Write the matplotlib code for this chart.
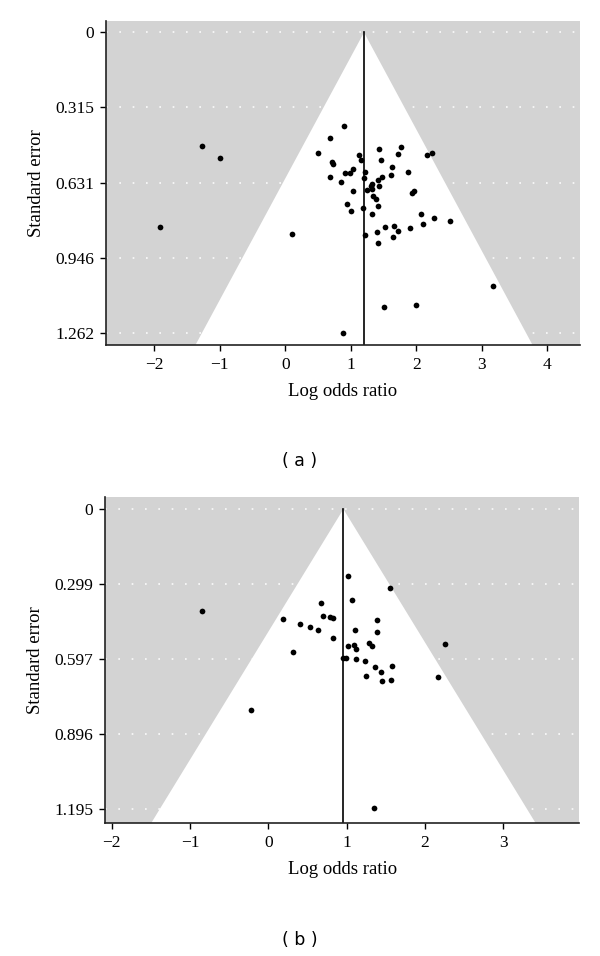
import numpy as np
import matplotlib
matplotlib.use("Agg")
import matplotlib.pyplot as plt

# panel (a)
lor_a = [0.891, 0.688, -1.272, -0.997, 0.505, 0.713, 0.723, 1.130, 1.150, 1.431,
         1.467, 1.766, 1.715, 2.158, 2.240, 1.039, 0.988, 0.917, 0.677, 0.845,
         1.222, 1.207, 1.634, 1.614, 1.481, 1.420, 1.878, 1.318, 1.303, 1.431,
         1.252, 1.323, 1.028, 1.965, 1.934, 1.339, 1.390, 1.420, 0.937, 1.008,
         1.182, 1.329, 2.072, 2.276, 2.520, 2.108, -1.918, 0.102, 1.217, 1.395,
         1.522, 1.659, 1.725, 1.639, 1.899, 1.410, 3.166, 1.507, 1.996, 0.876]
se_a = [0.391, 0.442, 0.478, 0.526, 0.507, 0.544, 0.553, 0.513, 0.534, 0.490,
        0.534, 0.481, 0.509, 0.513, 0.507, 0.573, 0.591, 0.591, 0.606, 0.627,
        0.585, 0.612, 0.567, 0.600, 0.606, 0.618, 0.588, 0.635, 0.646, 0.644,
        0.662, 0.658, 0.668, 0.665, 0.674, 0.685, 0.699, 0.728, 0.720, 0.748,
        0.738, 0.764, 0.764, 0.781, 0.790, 0.803, 0.817, 0.847, 0.851, 0.839,
        0.819, 0.811, 0.832, 0.858, 0.822, 0.886, 1.064, 1.153, 1.146, 1.262]
pooled_a = 1.202
yticks_a = [0, 0.315, 0.631, 0.946, 1.262]
xticks_a = [-2, -1, 0, 1, 2, 3, 4]

# panel (b)
lor_b = [1.022, 1.554, 1.073, 0.673, -0.847, 0.699, 0.784, 0.822, 0.192, 1.384,
         0.409, 0.533, 0.639, 1.111, 1.393, 0.831, 2.261, 1.282, 1.320, 1.022,
         1.094, 1.115, 0.320, 0.958, 0.988, 1.115, 1.230, 1.358, 1.580, 1.435,
         1.252, 1.448, 1.563, 2.171, -0.217, 1.346]
se_b = [0.267, 0.315, 0.363, 0.375, 0.408, 0.428, 0.431, 0.433, 0.440, 0.444,
        0.459, 0.472, 0.482, 0.482, 0.492, 0.516, 0.537, 0.532, 0.544, 0.546,
        0.540, 0.558, 0.570, 0.593, 0.593, 0.597, 0.605, 0.629, 0.627, 0.650,
        0.665, 0.686, 0.682, 0.670, 0.800, 1.190]
pooled_b = 0.958
yticks_b = [0, 0.299, 0.597, 0.896, 1.195]
xticks_b = [-2, -1, 0, 1, 2, 3]

plt.rcParams["font.family"] = ["Liberation Serif", "DejaVu Serif"]

GRAY = "#d3d3d3"


def funnel(ax, lor, se, pooled, yticks, xticks, xlim, ylim):
    ax.set_facecolor(GRAY)
    ax.set_xlim(*xlim)
    ax.set_ylim(*ylim)
    depth = ylim[0] + 0.2
    tri_x = [pooled, pooled - 1.96 * depth, pooled + 1.96 * depth]
    tri_y = [0, depth, depth]
    ax.fill(tri_x, tri_y, color="white", zorder=1, linewidth=0)
    for yt in yticks:
        ax.axhline(yt, color="white", linestyle=(0, (1, 7)), linewidth=1.2,
                   zorder=0.5, alpha=0.9)
    ax.plot([pooled, pooled], [0, ylim[0]], color="black", linewidth=1.2,
            zorder=2)
    ax.scatter(lor, se, s=17, color="black", linewidths=0, zorder=3)
    ax.set_yticks(yticks)
    ax.set_yticklabels(["0" if v == 0 else f"{v:.3f}" for v in yticks])
    ax.set_xticks(xticks)
    ax.set_xticklabels([str(v).replace("-", "\u2212") for v in xticks])
    ax.spines["top"].set_visible(False)
    ax.spines["right"].set_visible(False)
    for side in ("left", "bottom"):
        ax.spines[side].set_linewidth(1.2)
        ax.spines[side].set_color("#222222")
    ax.tick_params(direction="out", length=4.5, width=1, labelsize=12.5,
                   colors="black", pad=4)
    ax.set_xlabel("Log odds ratio", fontsize=13.5, labelpad=7)
    ax.set_ylabel("Standard error", fontsize=13.5, labelpad=7)


fig = plt.figure(figsize=(6, 9.56), dpi=100)
ax_a = fig.add_axes([0.1767, 0.6391, 0.79, 0.3392])
ax_b = fig.add_axes([0.175, 0.1388, 0.7905, 0.341])

funnel(ax_a, lor_a, se_a, pooled_a, yticks_a, xticks_a,
       (-2.737, 4.50), (1.313, -0.049))
funnel(ax_b, lor_b, se_b, pooled_b, yticks_b, xticks_b,
       (-2.086, 3.97), (1.253, -0.047))

fig.text(0.5, 1 - 461 / 956, "( a )", ha="center", va="center",
         fontsize=12.5, family=["DejaVu Sans"])
fig.text(0.5, 1 - 940 / 956, "( b )", ha="center", va="center",
         fontsize=12.5, family=["DejaVu Sans"])

fig.savefig("out.png", dpi=100)
